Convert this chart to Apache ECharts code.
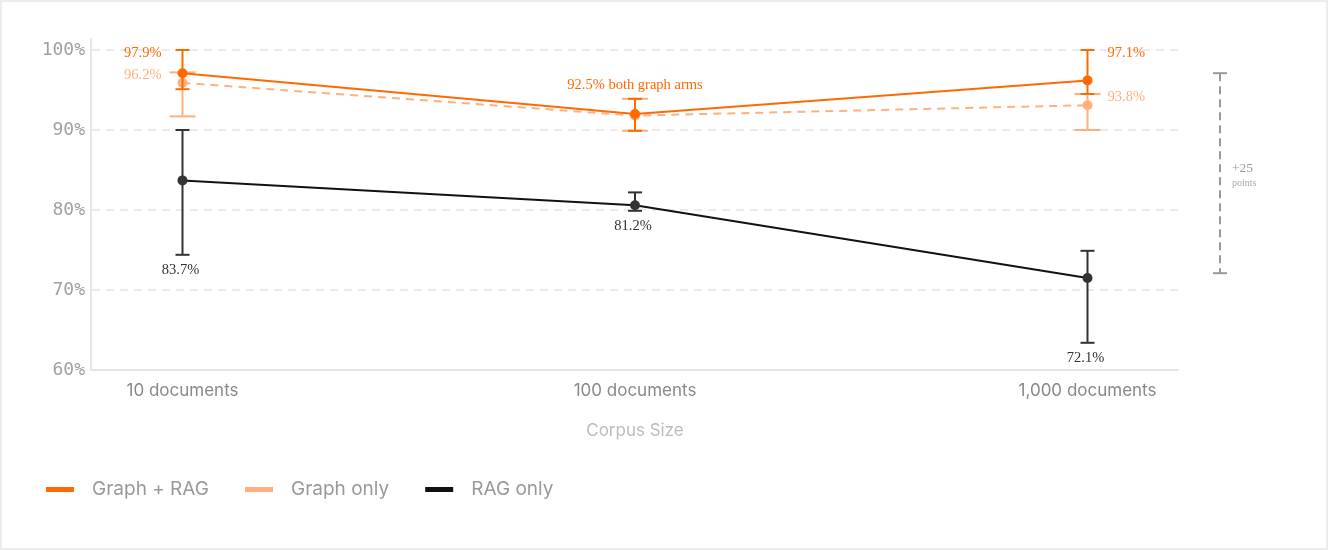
<!DOCTYPE html>
<html>
<head>
<meta charset="utf-8">
<script src="https://cdn.jsdelivr.net/npm/echarts@6/dist/echarts.min.js"></script>
<style>
  html, body { margin: 0; padding: 0; background: #fff; }
  #wrap { position: relative; width: 1328px; height: 550px; }
  #chart { width: 1328px; height: 550px; }
  #frame { position: absolute; left: 0; top: 0; width: 1328px; height: 550px; box-sizing: border-box; border: 2px solid #ececec; pointer-events: none; }
</style>
</head>
<body>
<div id="wrap"><div id="chart"></div><div id="frame"></div></div>
<script>
// ---- data ----
const categories = ['10 documents', '100 documents', '1,000 documents'];
const xPositions = [0, 1, 2];
const yTicks = [60, 70, 80, 90, 100];

const graphRagMean = [97.1, 92.0, 96.2];
const graphRagLow  = [95.1, 89.9, 94.5];
const graphRagHigh = [100.0, 93.9, 100.0];
const graphRagLabels = ['97.9%', '92.5% both graph arms', '97.1%'];
const graphRagLabelPos = ['left', 'top', 'right'];

const graphOnlyMean = [95.9, 91.8, 93.1];
const graphOnlyLow  = [91.7, 89.9, 90.0];
const graphOnlyHigh = [97.2, 93.9, 94.5];
const graphOnlyLabels = ['96.2%', '', '93.8%'];
const graphOnlyLabelPos = ['left', null, 'right'];

const ragMean = [83.7, 80.6, 71.5];
const ragLow  = [74.4, 79.9, 63.4];
const ragHigh = [90.0, 82.2, 74.9];
const ragLabels = ['83.7%', '81.2%', '72.1%'];
const ragLabelPos = ['bottom', 'bottom', 'bottom'];

const gapRange = [97.1, 72.1];
const gapLabel = '+25';
const gapSubLabel = 'points';

// ---- styles ----
const ORANGE = '#ff6a00';
const LIGHT = '#ffb07e';
const DARK = '#333333';
const BLACK = '#111111';
const SERIF = '"Liberation Serif", "DejaVu Serif", serif';

const chart = echarts.init(document.getElementById('chart'));

function errSeries(name, xs, lows, highs, labels, labelPos, color, capHalf, z) {
  return {
    type: 'custom',
    name: name,
    z: z,
    clip: false,
    silent: true,
    data: xs.map((x, i) => [x, lows[i], highs[i]]),
    renderItem: function (params, api) {
      const i = params.dataIndex;
      const x = api.value(0);
      const pLo = api.coord([x, api.value(1)]);
      const pHi = api.coord([x, api.value(2)]);
      const ls = { stroke: color, lineWidth: 2 };
      const children = [
        { type: 'line', shape: { x1: pLo[0], y1: pLo[1], x2: pHi[0], y2: pHi[1] }, style: ls },
        { type: 'line', shape: { x1: pHi[0] - capHalf, y1: pHi[1], x2: pHi[0] + capHalf, y2: pHi[1] }, style: ls },
        { type: 'line', shape: { x1: pLo[0] - capHalf, y1: pLo[1], x2: pLo[0] + capHalf, y2: pLo[1] }, style: ls }
      ];
      const pos = labelPos[i];
      const txt = labels[i];
      if (pos && txt) {
        let tx, ty, align;
        if (pos === 'left') { tx = pHi[0] - 21; ty = pHi[1] + 3; align = 'right'; }
        else if (pos === 'right') { tx = pHi[0] + 20; ty = pHi[1] + 3; align = 'left'; }
        else if (pos === 'top') { tx = pHi[0]; ty = pHi[1] - 14; align = 'center'; }
        else { tx = pLo[0] - 2; ty = pLo[1] + 15; align = 'center'; }
        children.push({
          type: 'text', x: tx, y: ty,
          style: { text: txt, fill: color === DARK ? '#333' : color, fontSize: 14.5, fontFamily: SERIF, align: align, verticalAlign: 'middle' }
        });
      }
      return { type: 'group', children: children };
    }
  };
}

const option = {
  animation: false,
  backgroundColor: '#fff',
  grid: { left: 92, right: 150, top: 38, bottom: 180 },
  xAxis: {
    type: 'value',
    min: -0.2,
    max: 2.2,
    axisLine: { show: true, lineStyle: { color: '#e6e6e6', width: 2 } },
    axisTick: { show: false },
    splitLine: { show: false },
    axisLabel: {
      customValues: xPositions,
      formatter: v => categories[Math.round(v)] || '',
      color: '#888', fontFamily: 'Inter', fontSize: 17, margin: 12
    },
    name: 'Corpus Size',
    nameLocation: 'middle',
    nameGap: 52,
    nameTextStyle: { color: '#bbb', fontFamily: 'Inter', fontSize: 17 }
  },
  yAxis: {
    type: 'value',
    min: 60,
    max: 101.5,
    axisLine: { show: false },
    axisTick: { show: false },
    axisLabel: {
      customValues: yTicks,
      formatter: v => v + '%',
      color: '#a0a0a0', fontFamily: '"DejaVu Sans Mono", monospace', fontSize: 18, margin: 7
    },
    splitLine: { show: false }
  },
  legend: {
    left: 41,
    top: 475,
    icon: 'rect',
    itemWidth: 28,
    itemHeight: 5,
    itemGap: 36,
    textStyle: { color: '#999', fontFamily: 'Inter', fontSize: 19, padding: [0, 0, 0, 13] },
    data: [
      { name: 'Graph + RAG', itemStyle: { color: ORANGE, borderWidth: 0 } },
      { name: 'Graph only', itemStyle: { color: LIGHT, borderWidth: 0 } },
      { name: 'RAG only', itemStyle: { color: BLACK, borderWidth: 0 } }
    ]
  },
  series: [
    {
      // gridlines
      type: 'custom', name: 'grid', silent: true, z: 0, clip: false,
      data: yTicks.map(v => [v]),
      renderItem: function (params, api) {
        const y = api.value(0);
        const a = api.coord([-0.2, y]);
        const b = api.coord([2.2, y]);
        if (y === 60) return null;
        return { type: 'line', shape: { x1: a[0], y1: a[1], x2: b[0], y2: b[1] },
          style: { stroke: '#ebebeb', lineWidth: 2, lineDash: [8, 6] } };
      }
    },
    {
      // y axis line
      type: 'custom', name: 'yaxisline', silent: true, z: 1, clip: false,
      data: [[60, 101.5]],
      renderItem: function (params, api) {
        const a = api.coord([-0.2, api.value(0)]);
        const b = api.coord([-0.2, api.value(1)]);
        return { type: 'line', shape: { x1: a[0] - 1, y1: a[1] + 1, x2: b[0] - 1, y2: b[1] },
          style: { stroke: '#e6e6e6', lineWidth: 2 } };
      }
    },
    errSeries('RAG only err', xPositions, ragLow, ragHigh, ragLabels, ragLabelPos, DARK, 7, 2),
    {
      name: 'RAG only', type: 'line', z: 3,
      data: xPositions.map((x, i) => [x, ragMean[i]]),
      symbol: 'circle', symbolSize: 10,
      lineStyle: { color: BLACK, width: 2 },
      itemStyle: { color: DARK }
    },
    errSeries('Graph only err', xPositions, graphOnlyLow, graphOnlyHigh, graphOnlyLabels, graphOnlyLabelPos, LIGHT, 13, 4),
    {
      name: 'Graph only', type: 'line', z: 5,
      data: xPositions.map((x, i) => [x, graphOnlyMean[i]]),
      symbol: 'circle', symbolSize: 10,
      lineStyle: { color: LIGHT, width: 2, type: [8, 6] },
      itemStyle: { color: LIGHT }
    },
    errSeries('Graph + RAG err', xPositions, graphRagLow, graphRagHigh, graphRagLabels, graphRagLabelPos, ORANGE, 7, 6),
    {
      name: 'Graph + RAG', type: 'line', z: 7,
      data: xPositions.map((x, i) => [x, graphRagMean[i]]),
      symbol: 'circle', symbolSize: 10,
      lineStyle: { color: ORANGE, width: 2 },
      itemStyle: { color: ORANGE }
    },
    {
      // gap bracket
      type: 'custom', name: 'gap', silent: true, z: 8, clip: false,
      data: [[2.2, gapRange[0], gapRange[1]]],
      renderItem: function (params, api) {
        const a = api.coord([api.value(0), api.value(1)]);
        const b = api.coord([api.value(0), api.value(2)]);
        const x = a[0] + 42;
        const mid = (a[1] + b[1]) / 2;
        const st = { stroke: '#999', lineWidth: 2 };
        return { type: 'group', children: [
          { type: 'line', shape: { x1: x, y1: a[1], x2: x, y2: b[1] }, style: { stroke: '#999', lineWidth: 2, lineDash: [8, 5] } },
          { type: 'line', shape: { x1: x - 7, y1: a[1], x2: x + 7, y2: a[1] }, style: st },
          { type: 'line', shape: { x1: x - 7, y1: b[1], x2: x + 7, y2: b[1] }, style: st },
          { type: 'text', x: x + 12, y: mid - 5, style: { text: gapLabel, fill: '#999', fontSize: 13.5, fontFamily: SERIF, align: 'left', verticalAlign: 'middle' } },
          { type: 'text', x: x + 12, y: mid + 10, style: { text: gapSubLabel, fill: '#aaa', fontSize: 10, fontFamily: SERIF, align: 'left', verticalAlign: 'middle' } }
        ] };
      }
    }
  ]
};
chart.setOption(option);
</script>
</body>
</html>
